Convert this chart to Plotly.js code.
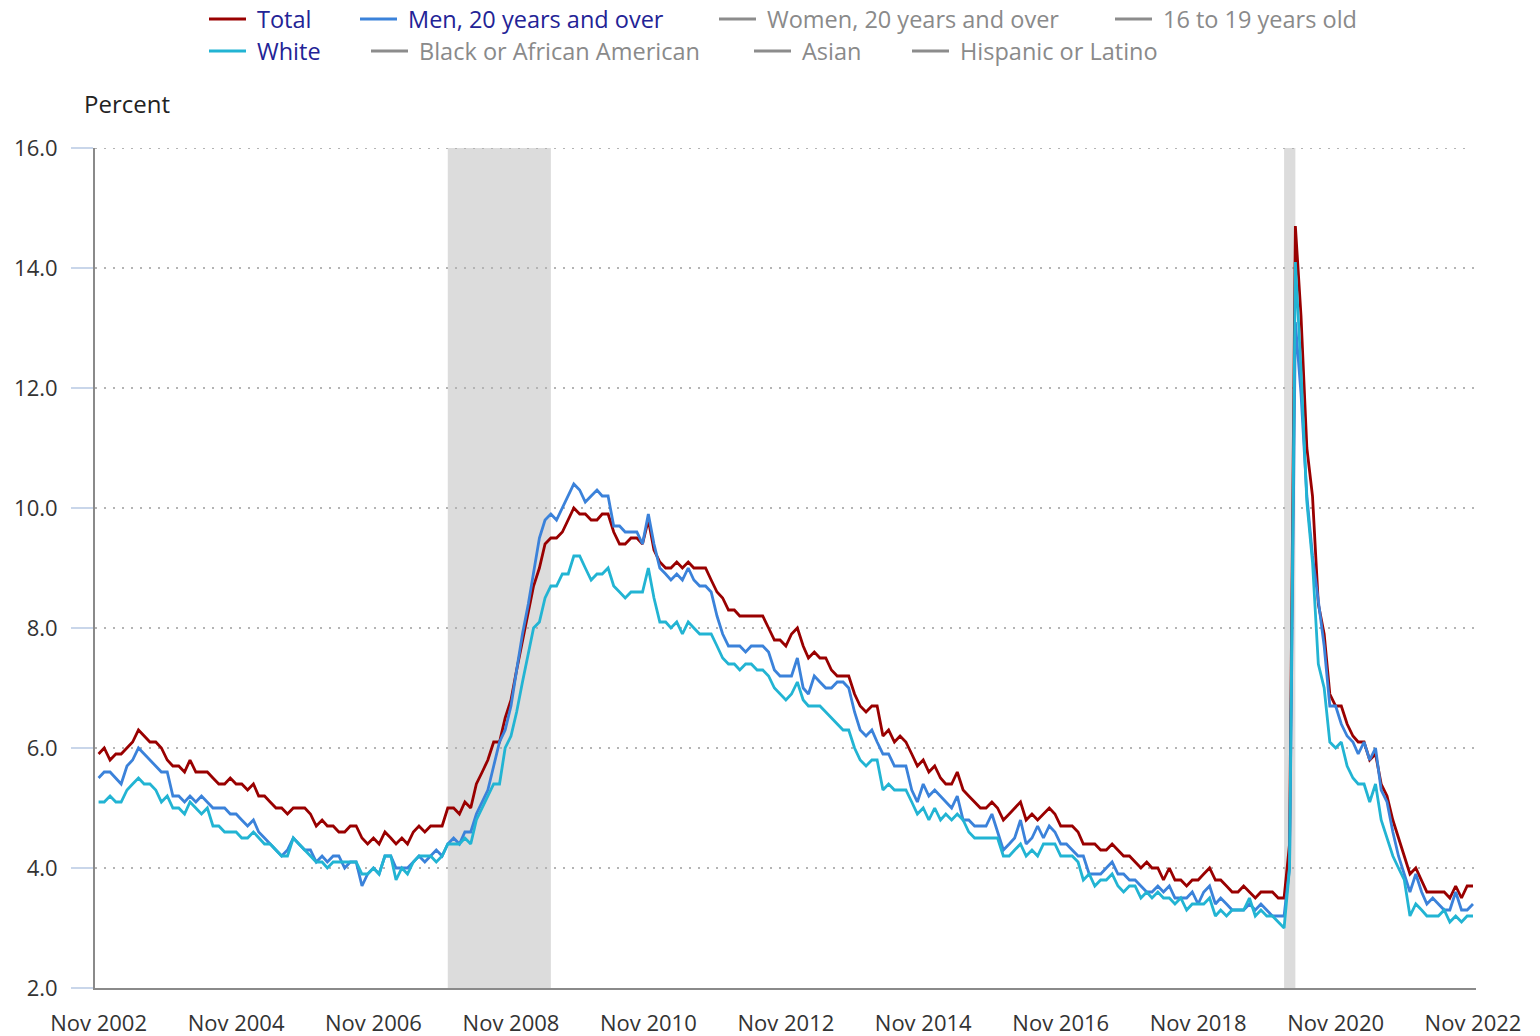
<!DOCTYPE html>
<html>
<head>
<meta charset="utf-8">
<script src="https://cdn.plot.ly/plotly-3.0.1.min.js"></script>
<style>
html,body{margin:0;padding:0;background:#fff;}
#chart{width:1540px;height:1036px;}
</style>
</head>
<body>
<div id="chart"></div>
<script>
// ---- DATA (monthly, Nov 2002 - Nov 2022, seasonally adjusted, percent) ----
const startYear = 2002;
const startMonthIndex = 10; // November (0-based)

const total = [
  5.9, 6.0,
  5.8, 5.9, 5.9, 6.0, 6.1, 6.3, 6.2, 6.1, 6.1, 6.0, 5.8, 5.7,
  5.7, 5.6, 5.8, 5.6, 5.6, 5.6, 5.5, 5.4, 5.4, 5.5, 5.4, 5.4,
  5.3, 5.4, 5.2, 5.2, 5.1, 5.0, 5.0, 4.9, 5.0, 5.0, 5.0, 4.9,
  4.7, 4.8, 4.7, 4.7, 4.6, 4.6, 4.7, 4.7, 4.5, 4.4, 4.5, 4.4,
  4.6, 4.5, 4.4, 4.5, 4.4, 4.6, 4.7, 4.6, 4.7, 4.7, 4.7, 5.0,
  5.0, 4.9, 5.1, 5.0, 5.4, 5.6, 5.8, 6.1, 6.1, 6.5, 6.8, 7.3,
  7.8, 8.3, 8.7, 9.0, 9.4, 9.5, 9.5, 9.6, 9.8, 10.0, 9.9, 9.9,
  9.8, 9.8, 9.9, 9.9, 9.6, 9.4, 9.4, 9.5, 9.5, 9.4, 9.8, 9.3,
  9.1, 9.0, 9.0, 9.1, 9.0, 9.1, 9.0, 9.0, 9.0, 8.8, 8.6, 8.5,
  8.3, 8.3, 8.2, 8.2, 8.2, 8.2, 8.2, 8.0, 7.8, 7.8, 7.7, 7.9,
  8.0, 7.7, 7.5, 7.6, 7.5, 7.5, 7.3, 7.2, 7.2, 7.2, 6.9, 6.7,
  6.6, 6.7, 6.7, 6.2, 6.3, 6.1, 6.2, 6.1, 5.9, 5.7, 5.8, 5.6,
  5.7, 5.5, 5.4, 5.4, 5.6, 5.3, 5.2, 5.1, 5.0, 5.0, 5.1, 5.0,
  4.8, 4.9, 5.0, 5.1, 4.8, 4.9, 4.8, 4.9, 5.0, 4.9, 4.7, 4.7,
  4.7, 4.6, 4.4, 4.4, 4.4, 4.3, 4.3, 4.4, 4.3, 4.2, 4.2, 4.1,
  4.0, 4.1, 4.0, 4.0, 3.8, 4.0, 3.8, 3.8, 3.7, 3.8, 3.8, 3.9,
  4.0, 3.8, 3.8, 3.7, 3.6, 3.6, 3.7, 3.6, 3.5, 3.6, 3.6, 3.6,
  3.5, 3.5, 4.4, 14.7, 13.2, 11.0, 10.2, 8.4, 7.9, 6.9, 6.7, 6.7,
  6.4, 6.2, 6.1, 6.1, 5.8, 5.9, 5.4, 5.2, 4.8, 4.5, 4.2, 3.9,
  4.0, 3.8, 3.6, 3.6, 3.6, 3.6, 3.5, 3.7, 3.5, 3.7, 3.7
];

const men20 = [
  5.5, 5.6, 5.6, 5.5, 5.4, 5.7, 5.8, 6.0, 5.9, 5.8, 5.7, 5.6, 5.6,
  5.2, 5.2, 5.1, 5.2, 5.1, 5.2, 5.1, 5.0, 5.0, 5.0,
  4.9, 4.9, 4.8, 4.7, 4.8, 4.6, 4.5, 4.4, 4.3, 4.2,
  4.3, 4.5, 4.4, 4.3, 4.3, 4.1, 4.2, 4.1, 4.2, 4.2,
  4.0, 4.1, 4.1, 3.7, 3.9, 4.0, 3.9, 4.2, 4.2, 4.0,
  4.0, 4.0, 4.1, 4.2, 4.1, 4.2, 4.3, 4.2, 4.4, 4.5,
  4.4, 4.6, 4.6, 4.9, 5.1, 5.3, 5.7, 6.1, 6.3, 6.7,
  7.3, 7.9, 8.4, 8.9, 9.5, 9.8, 9.9, 9.8, 10.0, 10.2,
  10.4, 10.3, 10.1, 10.2, 10.3, 10.2, 10.2, 9.7, 9.7, 9.6,
  9.6, 9.6, 9.4, 9.9, 9.4, 9.0, 8.9, 8.8, 8.9, 8.8,
  9.0, 8.8, 8.7, 8.7, 8.6, 8.2, 7.9, 7.7, 7.7, 7.7,
  7.6, 7.7, 7.7, 7.7, 7.6, 7.3, 7.2, 7.2, 7.2, 7.5,
  7.0, 6.9,
  7.2, 7.1, 7.0, 7.0, 7.1, 7.1, 7.0, 6.6, 6.3, 6.2,
  6.3, 6.1, 5.9, 5.9, 5.7, 5.7, 5.7, 5.3, 5.1, 5.4,
  5.2, 5.3, 5.2, 5.1, 5.0, 5.2, 4.8, 4.8, 4.7, 4.7,
  4.7, 4.9, 4.6, 4.3, 4.4, 4.5, 4.8, 4.4, 4.5, 4.7,
  4.5, 4.7,
  4.6, 4.4, 4.4, 4.3, 4.2, 4.2, 3.9, 3.9, 3.9, 4.0,
  4.1, 3.9, 3.9, 3.8, 3.8, 3.7, 3.6, 3.6, 3.7, 3.6,
  3.7, 3.5, 3.5, 3.5, 3.6, 3.4, 3.6, 3.7, 3.4, 3.5,
  3.4, 3.3, 3.3, 3.3, 3.4, 3.3, 3.4, 3.3, 3.2, 3.2,
  3.2,
  4.0, 13.1, 11.9, 10.2, 9.2, 8.4, 7.7, 6.7, 6.7, 6.4,
  6.2, 6.1, 5.9, 6.1, 5.8, 6.0, 5.3, 5.1, 4.6, 4.2,
  3.9, 3.6, 3.9, 3.6, 3.4, 3.5, 3.4, 3.3, 3.3, 3.6,
  3.3, 3.3, 3.4
];

const white = [
  5.1, 5.1, 5.2, 5.1, 5.1, 5.3, 5.4, 5.5, 5.4, 5.4,
  5.3, 5.1, 5.2, 5.0, 5.0, 4.9, 5.1, 5.0, 4.9, 5.0,
  4.7, 4.7, 4.6, 4.6, 4.6, 4.5, 4.5, 4.6, 4.5, 4.4,
  4.4, 4.3, 4.2, 4.2, 4.5, 4.4, 4.3, 4.2, 4.1, 4.1,
  4.0, 4.1, 4.1,
  4.1, 4.1, 4.1, 3.9, 3.9, 4.0, 3.9, 4.2, 4.2, 3.8,
  4.0, 3.9, 4.1, 4.2, 4.2, 4.2, 4.1, 4.2, 4.4, 4.4,
  4.4, 4.5, 4.4, 4.8, 5.0, 5.2, 5.4, 5.4, 6.0, 6.2,
  6.6, 7.1, 7.6, 8.0, 8.1, 8.5, 8.7, 8.7, 8.9, 8.9,
  9.2, 9.2, 9.0, 8.8, 8.9, 8.9, 9.0, 8.7, 8.6, 8.5,
  8.6, 8.6, 8.6, 9.0, 8.5, 8.1, 8.1, 8.0, 8.1, 7.9,
  8.1, 8.0, 7.9, 7.9, 7.9, 7.7, 7.5, 7.4, 7.4, 7.3,
  7.4, 7.4, 7.3, 7.3, 7.2, 7.0, 6.9, 6.8, 6.9, 7.1,
  6.8, 6.7,
  6.7, 6.7, 6.6, 6.5, 6.4, 6.3, 6.3, 6.0, 5.8, 5.7,
  5.8, 5.8, 5.3, 5.4, 5.3, 5.3, 5.3, 5.1, 4.9, 5.0,
  4.8, 5.0, 4.8, 4.9, 4.8, 4.9, 4.8, 4.6, 4.5, 4.5,
  4.5, 4.5, 4.5, 4.2, 4.2, 4.3, 4.4, 4.2, 4.3, 4.2,
  4.4, 4.4,
  4.4, 4.2, 4.2, 4.2, 4.1, 3.8, 3.9, 3.7, 3.8, 3.8,
  3.9, 3.7, 3.6, 3.7, 3.7, 3.5, 3.6, 3.5, 3.6, 3.5,
  3.5, 3.4, 3.5, 3.3, 3.4, 3.4, 3.4, 3.5, 3.2, 3.3,
  3.2, 3.3, 3.3, 3.3, 3.5, 3.2, 3.3, 3.2, 3.2, 3.1,
  3.0,
  4.0, 14.1, 12.3, 10.1, 9.1, 7.4, 7.0, 6.1, 6.0, 6.1,
  5.7, 5.5, 5.4, 5.4, 5.1, 5.4, 4.8, 4.5, 4.2, 4.0,
  3.8, 3.2, 3.4, 3.3, 3.2, 3.2, 3.2, 3.3, 3.1, 3.2,
  3.1, 3.2, 3.2
];

// Recessions (shaded)
const recessionStarts = ['2007-12-01', '2020-02-01'];
const recessionEnds   = ['2009-06-01', '2020-04-01'];

// Axis ticks
const yMin = 2, yMax = 16;
const tickYears = [2002, 2004, 2006, 2008, 2010, 2012, 2014, 2016, 2018, 2020, 2022];
const tickLabels = tickYears.map(y => 'Nov ' + y);

// Legend entries (row 1 then row 2)
const legendNames = ['Total', 'Men, 20 years and over', 'Women, 20 years and over', '16 to 19 years old',
                     'White', 'Black or African American', 'Asian', 'Hispanic or Latino'];
const legendActive = [true, true, false, false, true, false, false, false];

// ---- STYLE ----
const COL_TOTAL = '#990000';
const COL_MEN = '#3b82da';
const COL_WHITE = '#22b4d3';
const COL_OFF = '#8c8c8c';
const legendLineColors = [COL_TOTAL, COL_MEN, COL_OFF, COL_OFF, COL_WHITE, COL_OFF, COL_OFF, COL_OFF];
const FONT = '"Open Sans", "Noto Sans", "DejaVu Sans", sans-serif';
const GRID_DASH = '2px,7px';

// build monthly dates
function monthDates(n) {
  const out = [];
  for (let i = 0; i < n; i++) {
    const m = startMonthIndex + i;
    const y = startYear + Math.floor(m / 12);
    const mm = (m % 12) + 1;
    out.push(y + '-' + String(mm).padStart(2, '0') + '-01');
  }
  return out;
}
const dates = monthDates(total.length);

const traces = [
  {x: dates, y: total, name: 'Total', type: 'scatter', mode: 'lines',
   line: {color: COL_TOTAL, width: 2.8}},
  {x: dates, y: men20, name: 'Men, 20 years and over', type: 'scatter', mode: 'lines',
   line: {color: COL_MEN, width: 2.8}},
  {x: dates, y: white, name: 'White', type: 'scatter', mode: 'lines',
   line: {color: COL_WHITE, width: 2.8}}
];

// plot area in pixels: left 95, right 1476, top 148, bottom 988
const L = 95, R = 1476, T = 148, B = 988;
const px = x => (x - L) / (R - L);
const py = y => (B - y) / (B - T);

const shapes = recessionStarts.map((s, k) => ({
  type: 'rect', xref: 'x', yref: 'paper', x0: s, x1: recessionEnds[k], y0: 0, y1: 1,
  fillcolor: '#dcdcdc', line: {width: 0}, layer: 'below'
}));
// top gridline (Plotly omits the grid line on the range edge)
shapes.push({type: 'line', xref: 'paper', yref: 'y', x0: 0, x1: px(1471), y0: yMax, y1: yMax,
  line: {color: '#b4b4b4', width: 2, dash: GRID_DASH}, layer: 'below'});

const annotations = [];
// legend layout (pixel positions of line start per entry)
const legendLineX = [209, 360, 719, 1115, 209, 371, 754, 912];
const legendRowY = [19, 19, 19, 19, 51, 51, 51, 51];
legendNames.forEach((name, i) => {
  const x0 = legendLineX[i], yy = legendRowY[i];
  shapes.push({type: 'line', xref: 'paper', yref: 'paper',
    x0: px(x0), x1: px(x0 + 37), y0: py(yy), y1: py(yy),
    line: {color: legendLineColors[i], width: 3}});
  annotations.push({xref: 'paper', yref: 'paper', x: px(x0 + 46), y: py(yy),
    xanchor: 'left', yanchor: 'middle', showarrow: false, text: name,
    font: {family: FONT, size: 23.5, color: legendActive[i] ? '#232396' : '#8a8a8a'}});
});
annotations.push({xref: 'paper', yref: 'paper', x: px(82), y: py(104),
  xanchor: 'left', yanchor: 'middle', showarrow: false, text: 'Percent',
  font: {family: FONT, size: 24, color: '#222'}});

const layout = {
  width: 1540, height: 1036,
  margin: {l: L, r: 1540 - R, t: T, b: 1036 - B, pad: 0},
  paper_bgcolor: '#fff', plot_bgcolor: '#fff',
  showlegend: false,
  font: {family: FONT, size: 22, color: '#333'},
  xaxis: {
    type: 'date', range: ['2002-10-13', '2022-11-17'],
    tickvals: tickYears.map(y => y + '-11-01'), ticktext: tickLabels,
    showgrid: false, zeroline: false, showline: true, linecolor: '#8a8a8a', linewidth: 2,
    ticks: '', tickfont: {family: FONT, size: 22, color: '#333'}, ticklabelstandoff: 15,
    fixedrange: true
  },
  yaxis: {
    range: [yMin, yMax], dtick: 2, tick0: 2, tickformat: '.1f',
    showgrid: true, gridcolor: '#b4b4b4', gridwidth: 2, griddash: GRID_DASH,
    zeroline: false, showline: true, linecolor: '#8a8a8a', linewidth: 2,
    ticks: 'outside', ticklen: 22, tickwidth: 2, tickcolor: '#c9d6ea',
    tickfont: {family: FONT, size: 22, color: '#333'}, ticklabelstandoff: 9,
    fixedrange: true
  },
  shapes: shapes,
  annotations: annotations
};

Plotly.newPlot('chart', traces, layout, {displayModeBar: false, staticPlot: true});
</script>
</body>
</html>
